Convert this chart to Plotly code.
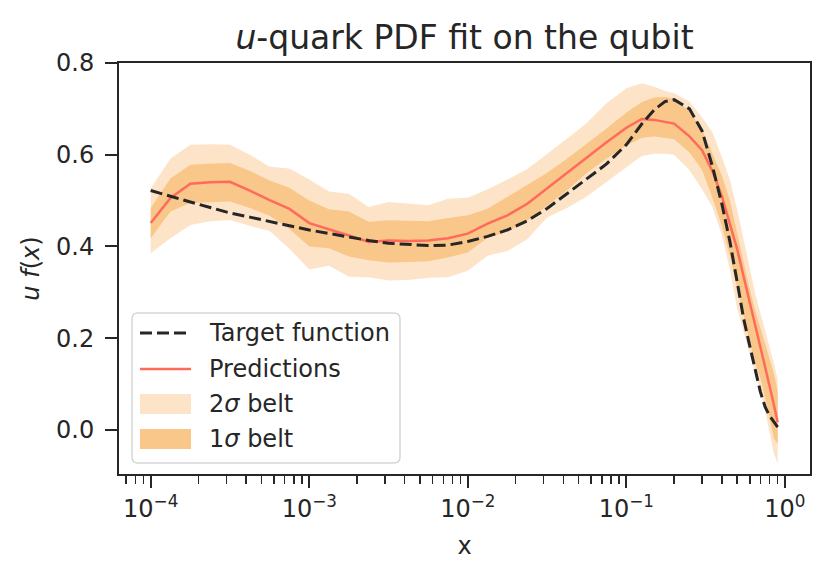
import plotly.graph_objects as go

# ---------------- data ----------------
x_vals = [1.0e-4, 1.3335e-4, 1.7783e-4, 2.3714e-4, 3.1623e-4, 4.2170e-4, 5.6234e-4, 7.4989e-4,
          1.0e-3, 1.3335e-3, 1.7783e-3, 2.3714e-3, 3.1623e-3, 4.2170e-3, 5.6234e-3, 7.4989e-3,
          1.0e-2, 1.3335e-2, 1.7783e-2, 2.3714e-2, 3.1623e-2, 4.2170e-2, 5.6234e-2, 7.4989e-2,
          0.1, 0.125, 0.15, 0.175, 0.2, 0.25, 0.3, 0.35, 0.4, 0.45, 0.5, 0.55, 0.6, 0.65,
          0.7, 0.75, 0.8, 0.85, 0.9]

target = [0.522, 0.509, 0.497, 0.485, 0.473, 0.464, 0.454, 0.445,
          0.436, 0.428, 0.421, 0.413, 0.407, 0.404, 0.402, 0.403,
          0.411, 0.422, 0.436, 0.456, 0.483, 0.515, 0.548, 0.580,
          0.622, 0.667, 0.698, 0.716, 0.720, 0.700, 0.652, 0.573, 0.493, 0.410, 0.322, 0.241,
          0.183, 0.130, 0.083, 0.050, 0.031, 0.018, 0.006]

predictions = [0.451, 0.506, 0.537, 0.540, 0.541, 0.522, 0.501, 0.482,
               0.451, 0.438, 0.424, 0.410, 0.413, 0.412, 0.413, 0.418,
               0.428, 0.450, 0.468, 0.493, 0.527, 0.561, 0.595, 0.627,
               0.659, 0.678, 0.676, 0.672, 0.668, 0.640, 0.610, 0.563, 0.510, 0.448, 0.394, 0.333,
               0.278, 0.230, 0.186, 0.139, 0.096, 0.056, 0.017]

upper_2sigma = [0.527, 0.592, 0.622, 0.623, 0.622, 0.600, 0.574, 0.570,
                0.546, 0.520, 0.515, 0.486, 0.497, 0.494, 0.490, 0.504,
                0.506, 0.525, 0.546, 0.569, 0.601, 0.635, 0.669, 0.712,
                0.745, 0.756, 0.748, 0.739, 0.734, 0.716, 0.682, 0.648, 0.595, 0.545, 0.480, 0.415,
                0.357, 0.297, 0.255, 0.217, 0.178, 0.146, 0.110]

lower_2sigma = [0.385, 0.418, 0.447, 0.455, 0.458, 0.445, 0.434, 0.395,
                0.350, 0.358, 0.334, 0.333, 0.326, 0.327, 0.332, 0.333,
                0.347, 0.380, 0.390, 0.416, 0.463, 0.484, 0.509, 0.540,
                0.573, 0.597, 0.602, 0.602, 0.600, 0.566, 0.525, 0.485, 0.425, 0.349, 0.264, 0.210,
                0.165, 0.122, 0.085, 0.042, -0.003, -0.050, -0.073]

upper_1sigma = [0.484, 0.549, 0.578, 0.581, 0.582, 0.565, 0.544, 0.528,
                0.500, 0.481, 0.476, 0.454, 0.457, 0.456, 0.455, 0.462,
                0.468, 0.482, 0.508, 0.534, 0.561, 0.591, 0.623, 0.657,
                0.692, 0.715, 0.725, 0.726, 0.722, 0.696, 0.655, 0.600, 0.555, 0.500, 0.430, 0.362,
                0.306, 0.260, 0.222, 0.184, 0.153, 0.124, 0.085]

lower_1sigma = [0.418, 0.476, 0.495, 0.497, 0.498, 0.484, 0.467, 0.438,
                0.400, 0.396, 0.378, 0.370, 0.365, 0.366, 0.368, 0.376,
                0.387, 0.419, 0.432, 0.456, 0.488, 0.522, 0.560, 0.592,
                0.620, 0.637, 0.640, 0.637, 0.634, 0.605, 0.567, 0.505, 0.444, 0.379, 0.309, 0.245,
                0.191, 0.145, 0.113, 0.071, 0.024, -0.018, -0.030]

x_major_ticks = [1e-4, 1e-3, 1e-2, 1e-1, 1.0]
x_major_labels = ["10<sup>−4</sup>", "10<sup>−3</sup>", "10<sup>−2</sup>", "10<sup>−1</sup>", "10<sup>0</sup>"]
y_ticks = [0.0, 0.2, 0.4, 0.6, 0.8]
legend_labels = ["Target function", "Predictions", "2<i>σ</i> belt", "1<i>σ</i> belt"]

# ---------------- style ----------------
C_TEXT = "#262626"
C_TARGET = "#262626"
C_PRED = "#FF6B5B"
C_2SIG = "#FDE4C9"
C_1SIG = "#FAC78A"
FONT = "DejaVu Sans"

W, H = 830, 579
L, R, T, B = 119, 810, 63, 474


def px(xp):
    return (xp - L) / (R - L)


def py(yp):
    return (B - yp) / (B - T)


fig = go.Figure()

# 2 sigma band
fig.add_trace(go.Scatter(x=x_vals, y=lower_2sigma, mode="lines", line=dict(width=0),
                         showlegend=False, hoverinfo="skip"))
fig.add_trace(go.Scatter(x=x_vals, y=upper_2sigma, mode="lines", line=dict(width=0),
                         fill="tonexty", fillcolor=C_2SIG, showlegend=False, name="2σ belt"))
# 1 sigma band
fig.add_trace(go.Scatter(x=x_vals, y=lower_1sigma, mode="lines", line=dict(width=0),
                         showlegend=False, hoverinfo="skip"))
fig.add_trace(go.Scatter(x=x_vals, y=upper_1sigma, mode="lines", line=dict(width=0),
                         fill="tonexty", fillcolor=C_1SIG, showlegend=False, name="1σ belt"))
# predictions
fig.add_trace(go.Scatter(x=x_vals, y=predictions, mode="lines",
                         line=dict(color=C_PRED, width=2.5), showlegend=False, name="Predictions"))
# target
fig.add_trace(go.Scatter(x=x_vals, y=target, mode="lines",
                         line=dict(color=C_TARGET, width=3, dash="12px,5px"),
                         showlegend=False, name="Target function"))

minor_ticks = [m * 10.0 ** e for e in range(-5, 1) for m in range(2, 10)]

fig.update_layout(
    width=W, height=H,
    margin=dict(l=L, r=W - R, t=T, b=H - B, pad=0, autoexpand=False),
    paper_bgcolor="white", plot_bgcolor="white",
    font=dict(family=FONT, color=C_TEXT, size=24),
    title=dict(text="<i>u</i>-quark PDF fit on the qubit", x=0.5, xref="paper", xanchor="center",
               y=1 - 37 / H, yref="container", yanchor="middle",
               font=dict(family=FONT, size=33, color=C_TEXT)),
    xaxis=dict(type="log", range=[-4.2, 0.158], showgrid=False, zeroline=False, automargin=False,
               showline=True, linecolor=C_TEXT, linewidth=2, mirror=True,
               ticks="outside", ticklen=12, tickwidth=2, tickcolor=C_TEXT,
               tickmode="array", tickvals=x_major_ticks, ticktext=x_major_labels,
               tickfont=dict(family=FONT, size=24, color=C_TEXT),
               minor=dict(tickmode="array", tickvals=minor_ticks, ticks="outside",
                          ticklen=8, tickwidth=1.5, tickcolor=C_TEXT, showgrid=False),
               title=dict(text="x", standoff=15, font=dict(family=FONT, size=24, color=C_TEXT))),
    yaxis=dict(range=[-0.096, 0.8], showgrid=False, zeroline=False, automargin=False,
               showline=True, linecolor=C_TEXT, linewidth=2, mirror=True,
               ticks="outside", ticklen=12, tickwidth=2, tickcolor=C_TEXT,
               tickmode="array", tickvals=y_ticks, tickformat=".1f",
               ticklabelstandoff=6,
               tickfont=dict(family=FONT, size=24, color=C_TEXT),
               title=dict(text="<i>u f</i>(<i>x</i>)", standoff=10,
                          font=dict(family=FONT, size=24, color=C_TEXT))),
)

# ---------------- legend (drawn in the axes, as in the reference) ----------------
lx0, lx1, ly0, ly1, rad = 132, 400, 313, 463, 6
path = (f"M {px(lx0 + rad)} {py(ly0)} L {px(lx1 - rad)} {py(ly0)} "
        f"Q {px(lx1)} {py(ly0)} {px(lx1)} {py(ly0 + rad)} L {px(lx1)} {py(ly1 - rad)} "
        f"Q {px(lx1)} {py(ly1)} {px(lx1 - rad)} {py(ly1)} L {px(lx0 + rad)} {py(ly1)} "
        f"Q {px(lx0)} {py(ly1)} {px(lx0)} {py(ly1 - rad)} L {px(lx0)} {py(ly0 + rad)} "
        f"Q {px(lx0)} {py(ly0)} {px(lx0 + rad)} {py(ly0)} Z")
fig.add_shape(type="path", path=path, xref="paper", yref="paper",
              fillcolor="rgba(255,255,255,0.8)", line=dict(color="#D6D6D6", width=1.5))

sym_x0, sym_x1, text_x = 140, 191, 207
row_y = [333, 369, 404, 439]
fig.add_shape(type="line", xref="paper", yref="paper", x0=px(sym_x0), x1=px(sym_x1),
              y0=py(row_y[0]), y1=py(row_y[0]),
              line=dict(color=C_TARGET, width=3, dash="12px,5px"))
fig.add_shape(type="line", xref="paper", yref="paper", x0=px(sym_x0), x1=px(sym_x1),
              y0=py(row_y[1]), y1=py(row_y[1]), line=dict(color=C_PRED, width=2.5))
fig.add_shape(type="rect", xref="paper", yref="paper", x0=px(sym_x0), x1=px(sym_x1),
              y0=py(row_y[2] - 10), y1=py(row_y[2] + 10), fillcolor=C_2SIG, line=dict(width=0))
fig.add_shape(type="rect", xref="paper", yref="paper", x0=px(sym_x0), x1=px(sym_x1),
              y0=py(row_y[3] - 10), y1=py(row_y[3] + 10), fillcolor=C_1SIG, line=dict(width=0))
for lab, ry in zip(legend_labels, row_y):
    fig.add_annotation(text=lab, xref="paper", yref="paper", x=px(text_x), y=py(ry),
                       xanchor="left", yanchor="middle", showarrow=False,
                       font=dict(family=FONT, size=24, color=C_TEXT))

fig.write_html("out.html",
               config={"displayModeBar": False, "staticPlot": True},
               post_script="document.body.style.margin='0';document.body.style.padding='0';"
                           "document.body.style.overflow='hidden';")
